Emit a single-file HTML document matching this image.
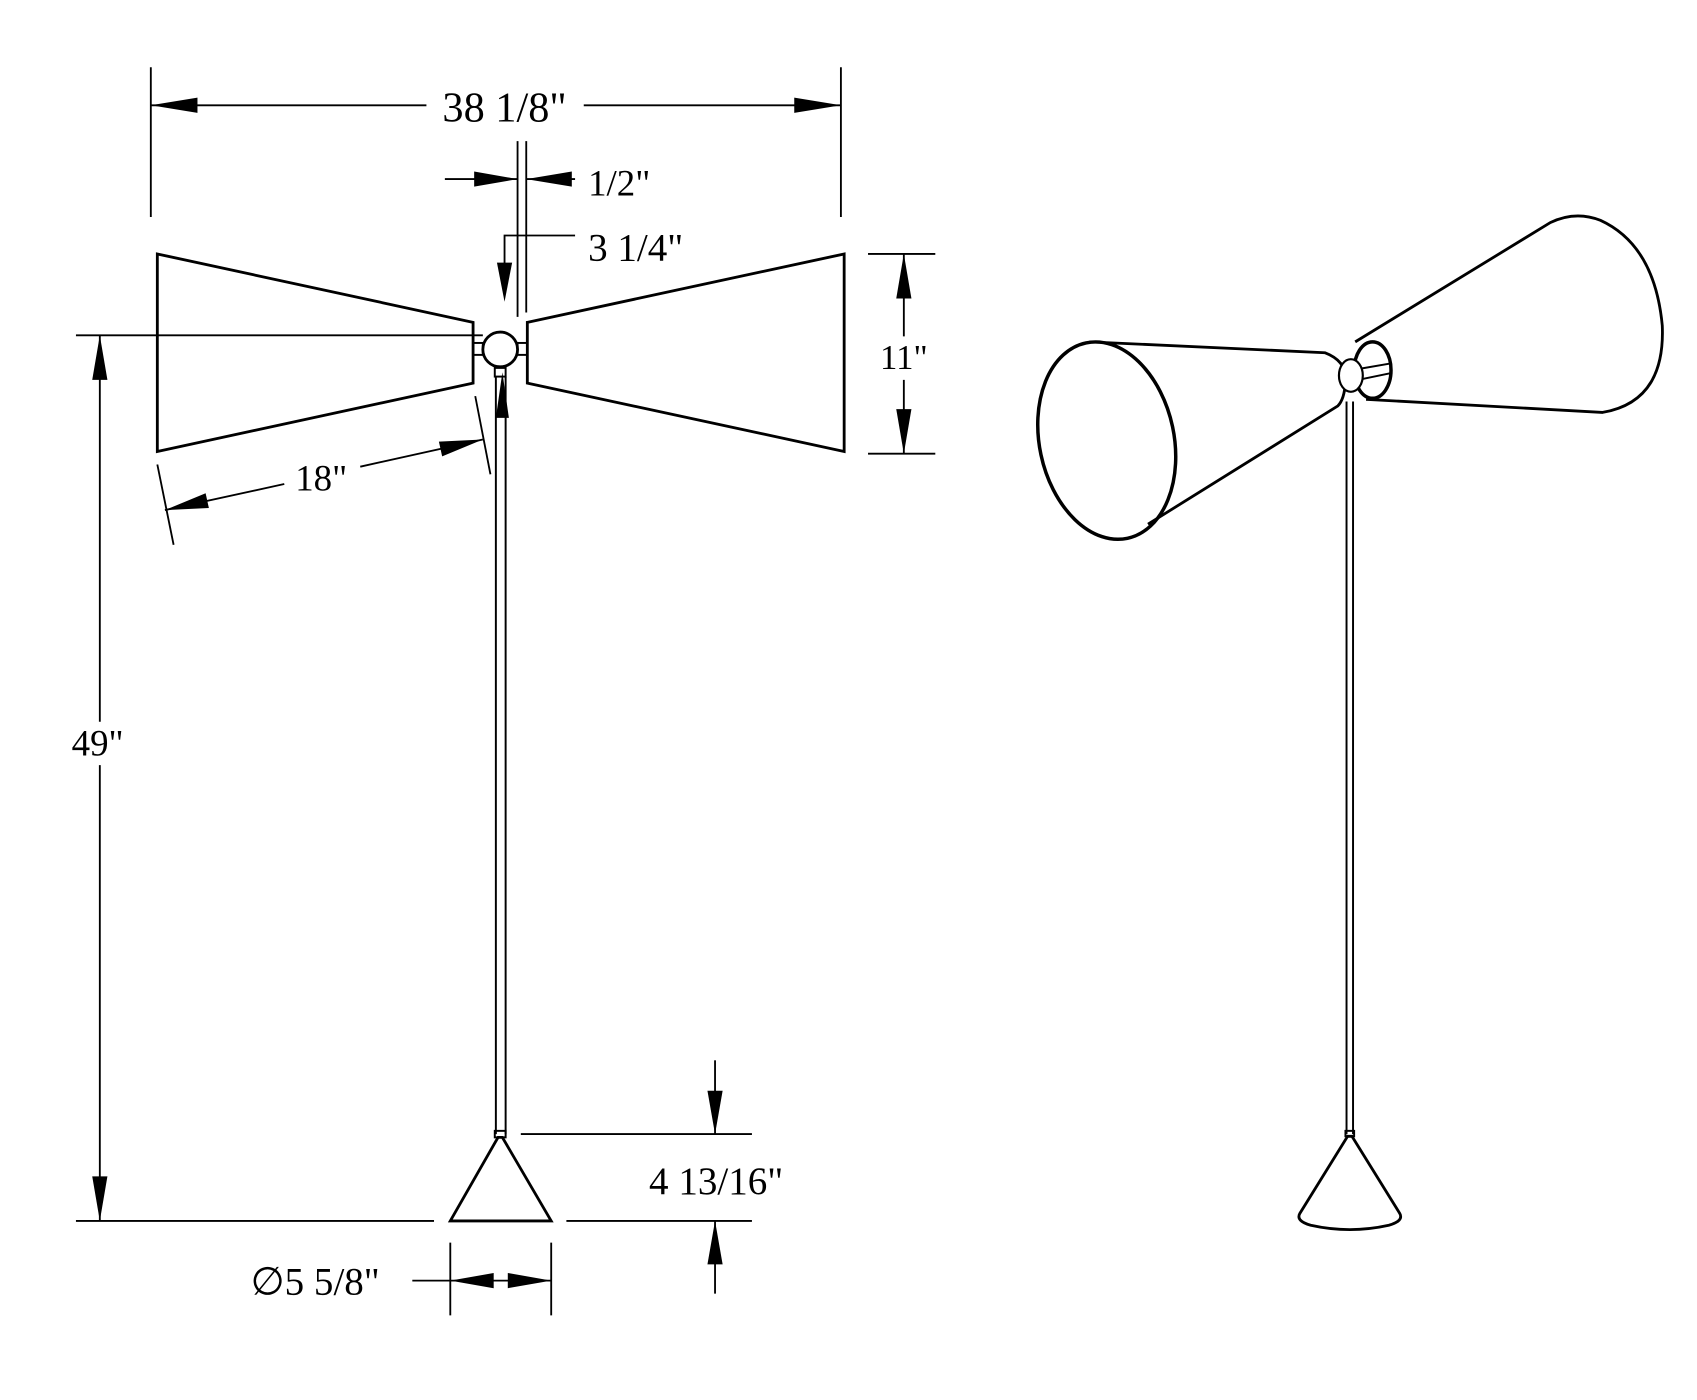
<!DOCTYPE html>
<html><head><meta charset="utf-8"><style>
html,body{margin:0;padding:0;background:#fff;}
svg{display:block;}
text{font-family:"Liberation Serif","DejaVu Serif",serif;fill:#000;}
</style></head><body>
<svg width="1697" height="1400" viewBox="0 0 1564 1290" preserveAspectRatio="none" xmlns="http://www.w3.org/2000/svg">
<rect width="1564" height="1290" fill="#fff"/>
<g stroke="#000" fill="none" stroke-width="1.7">
<line x1="139" y1="62" x2="139" y2="200"/>
<line x1="775" y1="62" x2="775" y2="200"/>
<line x1="139" y1="97" x2="393" y2="97"/>
<line x1="538" y1="97" x2="775" y2="97"/>
<line x1="477" y1="130" x2="477" y2="292"/>
<line x1="485" y1="130" x2="485" y2="288"/>
<line x1="410" y1="165" x2="477" y2="165"/>
<line x1="485" y1="165" x2="530" y2="165"/>
<polyline points="530,217 465,217 465,260"/>
<line x1="70" y1="309" x2="445" y2="309"/>
<line x1="800" y1="234" x2="862" y2="234"/>
<line x1="800" y1="418" x2="862" y2="418"/>
<line x1="833" y1="234" x2="833" y2="310"/>
<line x1="833" y1="350" x2="833" y2="418"/>
<line x1="92" y1="309" x2="92" y2="665"/>
<line x1="92" y1="705" x2="92" y2="1125"/>
<line x1="70" y1="1125" x2="400" y2="1125"/>
<line x1="145" y1="428" x2="160" y2="502"/>
<line x1="438" y1="365" x2="452" y2="437"/>
<line x1="152" y1="470" x2="262" y2="446"/>
<line x1="332" y1="430" x2="445" y2="405"/>
<line x1="480" y1="1045" x2="693" y2="1045"/>
<line x1="522" y1="1125" x2="693" y2="1125"/>
<line x1="659" y1="977" x2="659" y2="1045"/>
<line x1="659" y1="1125" x2="659" y2="1192"/>
<line x1="415" y1="1145" x2="415" y2="1212"/>
<line x1="508" y1="1145" x2="508" y2="1212"/>
<line x1="380" y1="1180" x2="508" y2="1180"/>
</g>
<g fill="#000">
<polygon points="139,97 182,90 182,104"/>
<polygon points="775,97 732,90 732,104"/>
<polygon points="477,165 437,158 437,172"/>
<polygon points="485,165 527,158 527,172"/>
<polygon points="465,278 458,242 472,242"/>
<polygon points="833,234 826,275 840,275"/>
<polygon points="833,418 826,377 840,377"/>
<polygon points="92,309 85,350 99,350"/>
<polygon points="92,1125 85,1084 99,1084"/>
<polygon points="152,470 192.5,468.1 189.5,454.5"/>
<polygon points="445,405 407.5,420.5 404.5,406.9"/>
<polygon points="463,343 457,385 469,385"/>
<polygon points="659,1045 652,1005 666,1005"/>
<polygon points="659,1125 652,1165 666,1165"/>
<polygon points="415,1180 455,1173 455,1187"/>
<polygon points="508,1180 468,1173 468,1187"/>
</g>
<g stroke="#000" fill="none" stroke-width="2.6" stroke-linejoin="miter">
<polygon points="145,234 436,297 436,353 145,416"/>
<polygon points="486,297 778,234 778,416 486,353"/>
<circle cx="461" cy="322" r="16" fill="#fff"/>
<rect x="436" y="316" width="9" height="11" stroke-width="1.8"/>
<rect x="477" y="316" width="9" height="11" stroke-width="1.8"/>
<rect x="456" y="339" width="10" height="8" stroke-width="1.8"/>
<line x1="457" y1="347" x2="457" y2="1045" stroke-width="1.8"/>
<line x1="466" y1="347" x2="466" y2="1045" stroke-width="1.8"/>
<rect x="456" y="1042" width="10" height="6" stroke-width="1.8"/>
<polygon points="459,1048 463,1048 508,1125 415,1125"/>
</g>
<g stroke="#000" fill="none" stroke-width="2.6">
<line x1="1241" y1="370" x2="1241" y2="1045" stroke-width="1.8"/>
<line x1="1247" y1="370" x2="1247" y2="1045" stroke-width="1.8"/>
<rect x="1240" y="1042" width="8" height="5" stroke-width="1.8"/>
<path d="M1242,1047 L1246,1047 L1290,1118 Q1294,1125 1280,1129 Q1244,1137 1208,1129 Q1194,1125 1198,1118 Z"/>
<path d="M1249,315 L1429,205 Q1452,194 1475,203 Q1525,226 1532,300 Q1535,370 1477,380 L1259,368"/>
<ellipse cx="1265" cy="341" rx="17" ry="26" stroke-width="3.2" fill="#fff"/>
<line x1="1252" y1="340" x2="1281" y2="335" stroke-width="1.8"/>
<line x1="1252" y1="350" x2="1281" y2="344" stroke-width="1.8"/>
<path d="M1004,315 L1221,325 Q1242,333 1240,352 Q1239,368 1233,374 L1058,483"/>
<ellipse cx="1245" cy="346" rx="11" ry="15" fill="#fff" stroke-width="2"/>
<ellipse cx="1020" cy="406" rx="62" ry="92" transform="rotate(-12 1020 406)" stroke-width="3.2"/>
</g>
<text x="465" y="112" font-size="39" text-anchor="middle">38 1/8"</text>
<text x="542" y="180" font-size="34">1/2"</text>
<text x="542" y="240" font-size="36">3 1/4"</text>
<text x="833" y="340" font-size="32" text-anchor="middle">11"</text>
<text x="296" y="452" font-size="34" text-anchor="middle">18"</text>
<text x="90" y="696" font-size="34" text-anchor="middle">49"</text>
<text x="660" y="1100" font-size="36" text-anchor="middle">4 13/16"</text>
<text x="231" y="1193" font-size="36">∅5 5/8"</text>
</svg>
</body></html>
